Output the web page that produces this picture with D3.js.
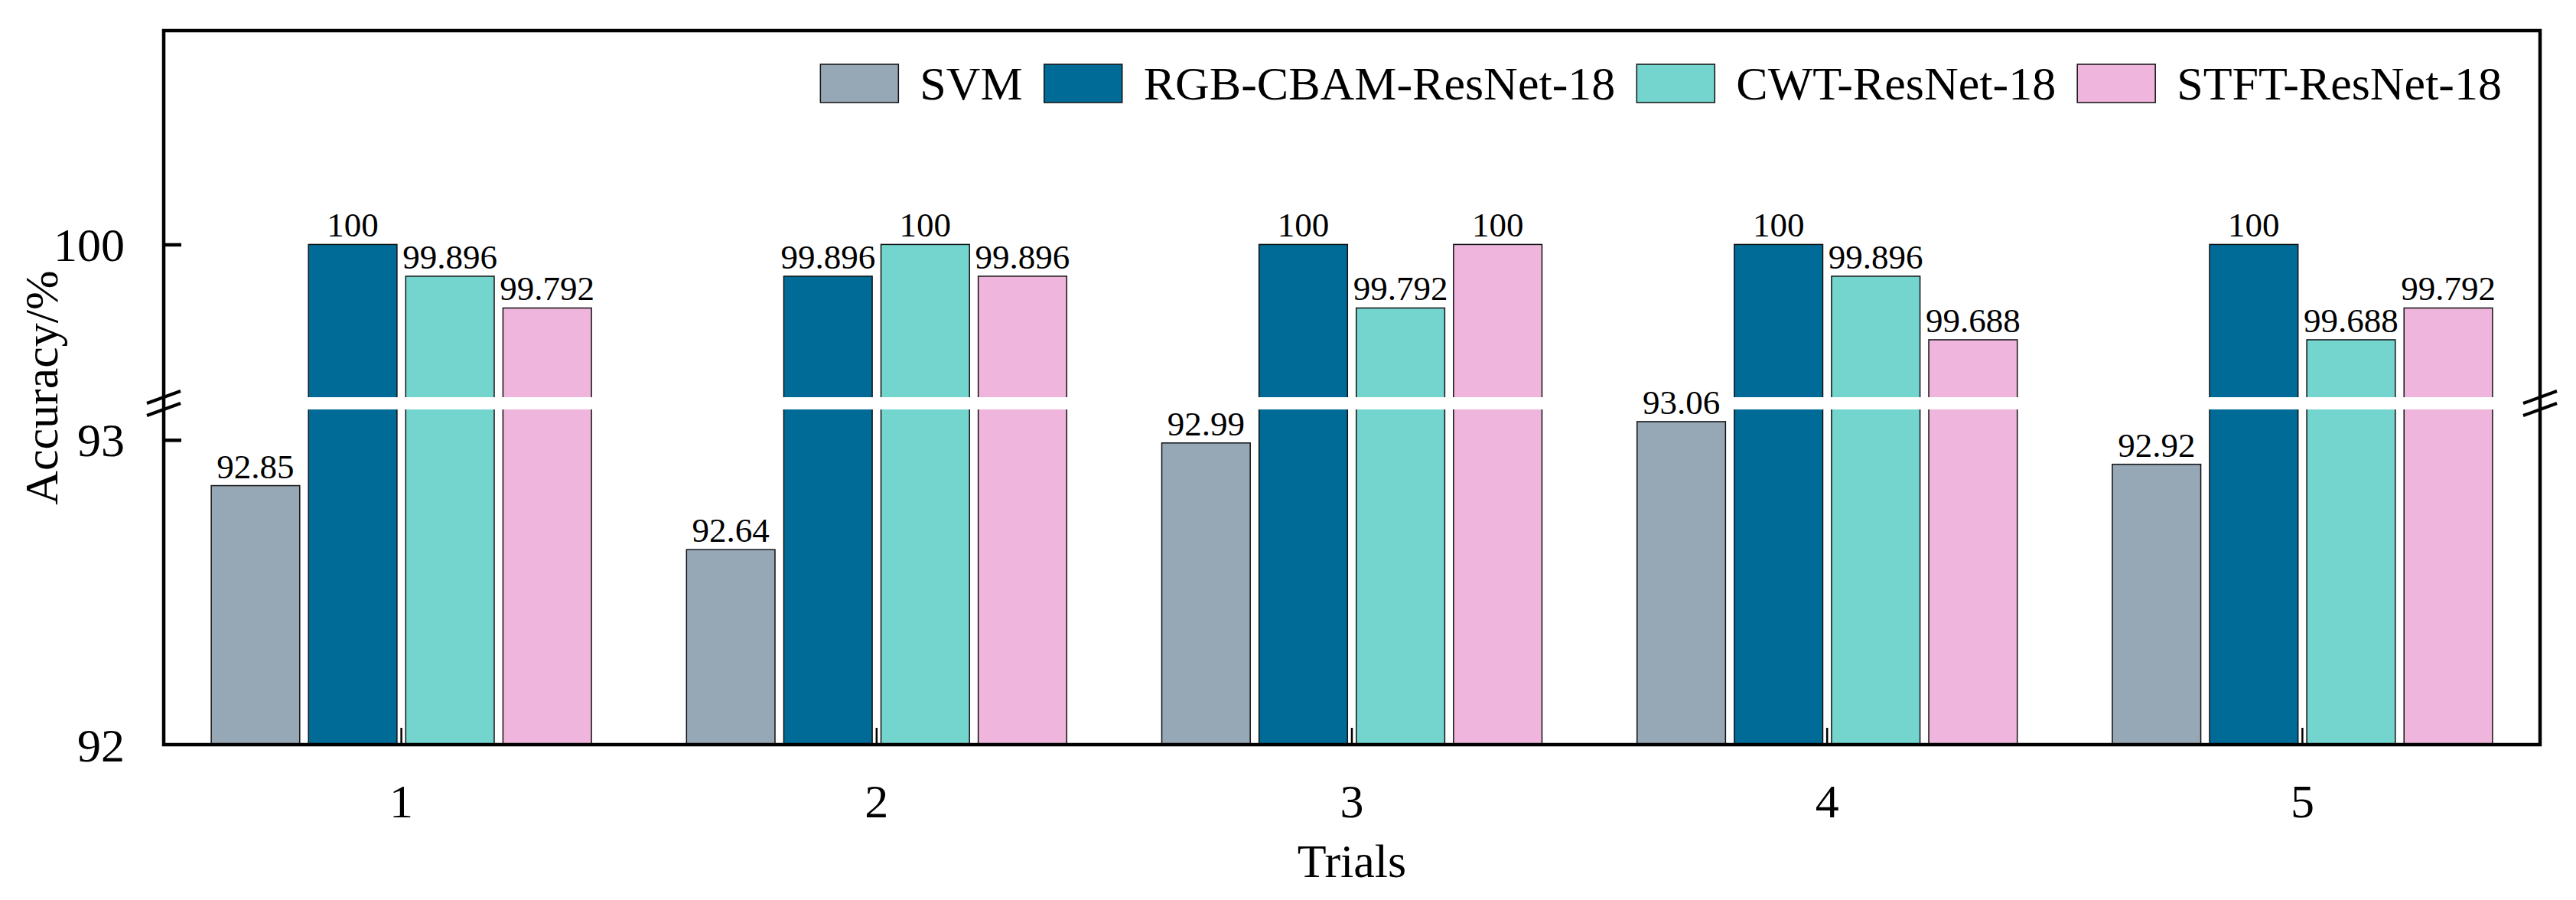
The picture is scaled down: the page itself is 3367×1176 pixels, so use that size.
<!DOCTYPE html>
<html><head><meta charset="utf-8">
<script src="https://cdn.jsdelivr.net/npm/d3@7"></script>
<style>html,body{margin:0;padding:0;background:#fff;}svg{display:block;}</style>
</head><body>
<svg id="chart" width="3367" height="1176"></svg>
<script>
const trials = ["1", "2", "3", "4", "5"];
const seriesNames = ["SVM", "RGB-CBAM-ResNet-18", "CWT-ResNet-18", "STFT-ResNet-18"];
const svmValues  = [92.85, 92.64, 92.99, 93.06, 92.92];
const rgbValues  = [100, 99.896, 100, 100, 100];
const cwtValues  = [99.896, 100, 99.792, 99.896, 99.688];
const stftValues = [99.792, 99.896, 100, 99.688, 99.792];
const seriesColors = ["#96A7B6", "#006B96", "#74D5CF", "#EFB5DC"];
const yTickValues = [92, 93, 100];
const yBreakLow = 93.1, yBreakHigh = 99.5;
const yMin = 92, yMax = 100.7;

const seriesValues = [svmValues, rgbValues, cwtValues, stftValues];
const FONT = "'Liberation Serif','Times New Roman',serif";
const FS = 62;

const L = 214, R = 3320, T = 40, B = 973;
const gapTop = 519, gapBot = 535;

const svg = d3.select("#chart");

const x0 = d3.scaleBand().domain(trials).range([L, R]).padding(0);
const bw = x0.bandwidth();
const x1 = d3.scaleBand().domain(seriesNames).range([bw * 0.1, bw * 0.9]).paddingInner(0.09).paddingOuter(0);
const y = d3.scaleLinear().domain([yMin, yBreakLow, yBreakHigh, yMax]).range([B, gapBot, gapTop, T]);

// bars
const g = svg.append("g");
trials.forEach((t, i) => {
  seriesNames.forEach((s, j) => {
    const v = seriesValues[j][i];
    const bx = x0(t) + x1(s);
    g.append("rect")
      .attr("x", bx).attr("y", y(v))
      .attr("width", x1.bandwidth()).attr("height", B - y(v))
      .attr("fill", seriesColors[j]).attr("stroke", "#111").attr("stroke-width", 1.5);
  });
});

// white gap band across the plot
svg.append("rect").attr("x", L + 3).attr("y", y(yBreakHigh)).attr("width", R - L - 6)
  .attr("height", y(yBreakLow) - y(yBreakHigh)).attr("fill", "#fff");

// value labels
trials.forEach((t, i) => {
  seriesNames.forEach((s, j) => {
    const v = seriesValues[j][i];
    svg.append("text")
      .attr("x", x0(t) + x1(s) + x1.bandwidth() / 2).attr("y", y(v) - 10)
      .attr("text-anchor", "middle").attr("font-family", FONT).attr("font-size", 45)
      .attr("fill", "#000").text(String(v));
  });
});

// frame
svg.append("rect").attr("x", L).attr("y", T).attr("width", R - L).attr("height", B - T)
  .attr("fill", "none").attr("stroke", "#000").attr("stroke-width", 4.5);

// y axis ticks (inward) and labels
const yAxis = d3.axisLeft(y).tickValues(yTickValues).tickSizeInner(-23).tickSizeOuter(0).tickPadding(28 + 23);
const ya = svg.append("g").attr("transform", `translate(${L},0)`).call(yAxis);
ya.select(".domain").remove();
ya.selectAll(".tick line").attr("stroke", "#000").attr("stroke-width", 4.5);
ya.selectAll(".tick text").attr("font-family", FONT).attr("font-size", FS).attr("fill", "#000").attr("dy", "0.34em");
ya.selectAll(".tick").filter(d => d === yMin).select("line").remove();

// x axis ticks (inward) and labels
const xAxis = d3.axisBottom(x0).tickSizeInner(-22).tickSizeOuter(0).tickPadding(22 + 30);
const xa = svg.append("g").attr("transform", `translate(0,${B})`).call(xAxis);
xa.select(".domain").remove();
xa.selectAll(".tick line").attr("stroke", "#000").attr("stroke-width", 2.5).attr("y1", -2);
xa.selectAll(".tick text").attr("font-family", FONT).attr("font-size", FS).attr("fill", "#000").attr("dy", "0.7em");

// break marks on both axes
[L, R].forEach(ax => {
  [y(yBreakHigh), y(yBreakLow)].forEach(yy => {
    svg.append("line").attr("x1", ax - 22).attr("y1", yy + 8).attr("x2", ax + 22).attr("y2", yy - 8)
      .attr("stroke", "#000").attr("stroke-width", 4);
  });
});

// axis titles
svg.append("text").attr("x", (L + R) / 2).attr("y", 1146).attr("text-anchor", "middle")
  .attr("font-family", FONT).attr("font-size", FS).attr("fill", "#000").text("Trials");
svg.append("text").attr("transform", `translate(75,${(T + B) / 2}) rotate(-90)`).attr("text-anchor", "middle")
  .attr("font-family", FONT).attr("font-size", FS).attr("fill", "#000").text("Accuracy/%");

// legend, laid out from the right end
const legend = svg.append("g");
const swW = 102, swH = 50, swY = 84, gapSwText = 28, gapItem = 28;
let cursor = 3270;
for (let j = seriesNames.length - 1; j >= 0; j--) {
  const txt = legend.append("text").attr("font-family", FONT).attr("font-size", FS).attr("fill", "#000")
    .attr("y", 130).text(seriesNames[j]);
  const w = txt.node().getComputedTextLength();
  txt.attr("x", cursor - w);
  const sx = cursor - w - gapSwText - swW;
  legend.append("rect").attr("x", sx).attr("y", swY).attr("width", swW).attr("height", swH)
    .attr("fill", seriesColors[j]).attr("stroke", "#111").attr("stroke-width", 1.5);
  cursor = sx - gapItem;
}
</script>
</body></html>
